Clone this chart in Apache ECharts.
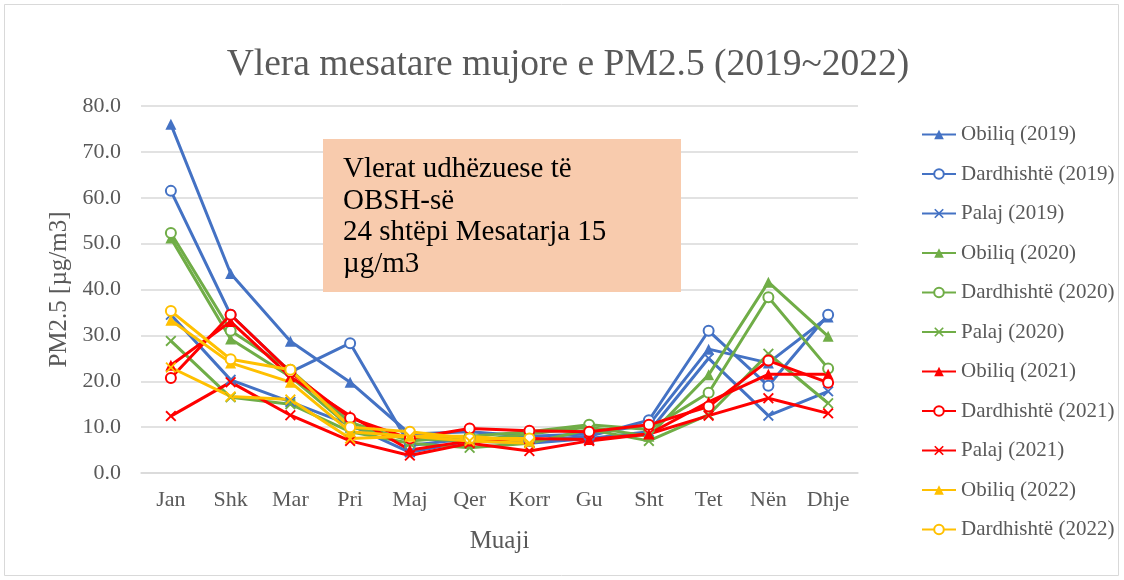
<!DOCTYPE html>
<html>
<head>
<meta charset="utf-8">
<script src="https://cdn.jsdelivr.net/npm/echarts@6/dist/echarts.min.js"></script>
<style>html,body{margin:0;padding:0;background:#fff}#c{width:1124px;height:580px}</style>
</head>
<body>
<div id="c"></div>
<script>
const months = ['Jan','Shk','Mar','Pri','Maj','Qer','Korr','Gu','Sht','Tet','Nën','Dhje'];
const yTicks = [0,10,20,30,40,50,60,70,80];

const obiliq2019     = [76.0, 43.5, 28.7, 19.8, 8.5, 9.0, 8.0, 8.5, 10.5, 27.0, 24.0, 34.0];
const dardhishte2019 = [61.5, 34.5, 22.0, 28.3, 6.0, 7.5, 7.0, 8.0, 11.5, 31.0, 19.0, 34.5];
const palaj2019      = [34.5, 20.3, 15.5, 10.5, 4.5, 7.0, 6.5, 7.5, 9.0, 25.0, 12.5, 17.8];
const obiliq2020     = [51.2, 29.2, 21.0, 10.0, 7.5, 7.0, 8.5, 10.0, 8.0, 21.4, 41.6, 29.8];
const dardhishte2020 = [52.3, 31.0, 22.5, 11.0, 7.0, 8.0, 9.0, 10.5, 9.5, 17.5, 38.3, 22.8];
const palaj2020      = [28.8, 16.5, 15.0, 9.0, 6.5, 5.5, 6.5, 9.5, 7.0, 12.7, 26.0, 15.2];
const obiliq2021     = [23.5, 33.0, 21.0, 12.5, 5.0, 7.0, 7.5, 7.3, 8.5, 15.5, 21.5, 21.5];
const dardhishte2021 = [20.7, 34.5, 22.0, 12.0, 7.5, 9.7, 9.2, 9.0, 10.5, 14.5, 24.5, 19.7];
const palaj2021      = [12.4, 19.8, 12.6, 7.0, 3.8, 6.5, 4.8, 7.0, 8.5, 12.5, 16.3, 13.0];
const obiliq2022     = [33.3, 24.0, 19.8, 9.0, 8.0, 8.0, 7.0];
const dardhishte2022 = [35.3, 24.8, 22.5, 10.0, 9.0, 7.5, 7.5];
const palaj2022      = [23.0, 16.7, 16.0, 7.5, 8.0, 7.0, 6.5];

const seriesDefs = [
  ['Obiliq (2019)', obiliq2019, '#4472C4', 'tri'],
  ['Dardhishtë (2019)', dardhishte2019, '#4472C4', 'circ'],
  ['Palaj (2019)', palaj2019, '#4472C4', 'x'],
  ['Obiliq (2020)', obiliq2020, '#70AD47', 'tri'],
  ['Dardhishtë (2020)', dardhishte2020, '#70AD47', 'circ'],
  ['Palaj (2020)', palaj2020, '#70AD47', 'x'],
  ['Obiliq (2021)', obiliq2021, '#FF0000', 'tri'],
  ['Dardhishtë (2021)', dardhishte2021, '#FF0000', 'circ'],
  ['Palaj (2021)', palaj2021, '#FF0000', 'x'],
  ['Obiliq (2022)', obiliq2022, '#FFC000', 'tri'],
  ['Dardhishtë (2022)', dardhishte2022, '#FFC000', 'circ'],
  ['Palaj (2022)', palaj2022, '#FFC000', 'x']
];
const legendNames = seriesDefs.slice(0, 11).map(d => d[0]);

const XPATH = 'path://M0,1.2L1.2,0L5,3.8L8.8,0L10,1.2L6.2,5L10,8.8L8.8,10L5,6.2L1.2,10L0,8.8L3.8,5Z';
const font = 'Liberation Serif';

const series = seriesDefs.map(([name, data, color, m]) => {
  const s = {
    name, type: 'line', data, lineStyle: { color, width: 3 },
    itemStyle: { color }, showSymbol: true, animation: false, z: 2
  };
  if (m === 'tri') { s.symbol = 'triangle'; s.symbolSize = 11; }
  else if (m === 'circ') { s.symbol = 'emptyCircle'; s.symbolSize = 10; s.itemStyle = { color, borderColor: color, borderWidth: 2 }; }
  else { s.symbol = XPATH; s.symbolSize = 11; }
  return s;
});

const chart = echarts.init(document.getElementById('c'));
chart.setOption({
  animation: false,
  backgroundColor: '#fff',
  title: {
    text: 'Vlera mesatare mujore e PM2.5 (2019~2022)',
    left: 563, top: 41, textAlign: 'center',
    textStyle: { fontFamily: font, fontSize: 37.5, fontWeight: 'normal', color: '#595959' }
  },
  grid: { left: 141, right: 266, top: 106, bottom: 107 },
  xAxis: {
    type: 'category', data: months, boundaryGap: true,
    name: 'Muaji', nameLocation: 'middle', nameGap: 56,
    nameTextStyle: { fontFamily: font, fontSize: 25, color: '#595959' },
    axisLine: { lineStyle: { color: '#d9d9d9', width: 1.5 } },
    axisTick: { show: false },
    axisLabel: { fontFamily: font, fontSize: 22, color: '#595959', margin: 16 }
  },
  yAxis: {
    type: 'value', min: yTicks[0], max: yTicks[yTicks.length - 1], interval: 10,
    name: 'PM2.5 [µg/m3]', nameLocation: 'middle', nameGap: 68,
    nameTextStyle: { fontFamily: font, fontSize: 25, color: '#595959' },
    axisLine: { show: false }, axisTick: { show: false },
    splitLine: { lineStyle: { color: '#d9d9d9', width: 1.5 } },
    axisLabel: { fontFamily: font, fontSize: 22, color: '#595959', margin: 20, formatter: v => v.toFixed(1) }
  },
  legend: {
    data: legendNames, orient: 'vertical', left: 916, top: 119,
    itemWidth: 34, itemHeight: 12, itemGap: 18.5,
    textStyle: { fontFamily: font, fontSize: 21, color: '#595959', lineHeight: 20 }
  },
  graphic: [
    { type: 'rect', shape: { x: 4.5, y: 4.5, width: 1114, height: 571 }, style: { fill: 'none', stroke: '#d9d9d9', lineWidth: 1 }, silent: true, z: -10 },
    { type: 'rect', shape: { x: 323, y: 139, width: 358, height: 153 }, style: { fill: '#F8CBAD' }, z: 100 },
    { type: 'text', left: 343, top: 154, z: 101,
      style: { text: 'Vlerat udhëzuese të\nOBSH-së\n24 shtëpi Mesatarja 15\nµg/m3', font: '29px "Liberation Serif"', fill: '#000', lineHeight: 31.5 } }
  ],
  series
});
</script>
</body>
</html>
